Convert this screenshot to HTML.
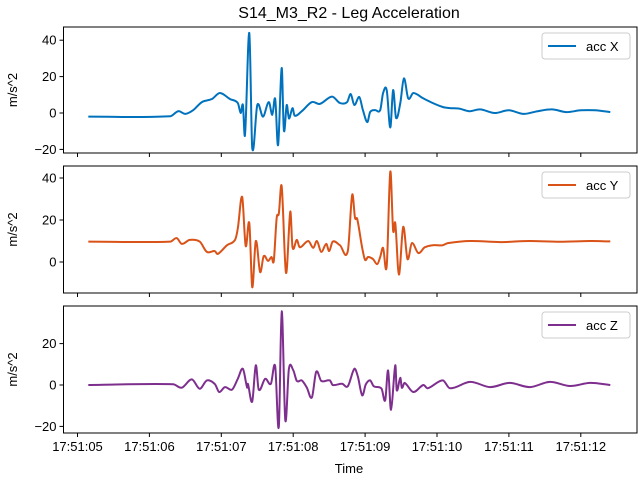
<!DOCTYPE html>
<html><head><meta charset="utf-8"><style>
body{margin:0;background:#fff}
svg{display:block;font-family:"Liberation Sans","DejaVu Sans",sans-serif}
</style></head><body>
<svg id="chart" width="640" height="480" viewBox="0 0 640 480">
<rect width="640" height="480" fill="#fff"/>
<text x="349" y="18" font-size="16" text-anchor="middle">S14_M3_R2 - Leg Acceleration</text>
<text x="349" y="473" font-size="13" text-anchor="middle">Time</text>
<g id="plots"></g>
</svg>
<script>
const timeTicks = [5,6,7,8,9,10,11,12];
const timeTickLabels = ["17:51:05","17:51:06","17:51:07","17:51:08","17:51:09","17:51:10","17:51:11","17:51:12"];
const xTimes = [5.15,6.29,6.40,6.50,6.61,6.73,6.87,6.98,7.12,7.23,7.27,7.30,7.33,7.39,7.43,7.50,7.58,7.66,7.71,7.75,7.79,7.84,7.87,7.91,7.94,7.99,8.02,8.12,8.26,8.37,8.54,8.65,8.75,8.80,8.85,8.92,8.97,9.03,9.07,9.14,9.21,9.25,9.30,9.35,9.39,9.43,9.49,9.54,9.60,9.67,9.81,9.94,10.08,10.18,10.30,10.45,10.60,10.80,11.00,11.20,11.40,11.60,11.80,12.00,12.20,12.41];
const accX = [-2,-1.8,1,-0.5,1.6,6,7.7,11,7.7,5.5,0,4.4,-12,44,-19,4.4,-2,6,-1,7.7,-17.6,24.7,-9.5,4.4,-3,2.7,-1.5,1,6,5,9,5.5,6,10.4,4.4,8.8,1.6,-5,0.5,1.6,1.6,11,12.6,-8,12.6,-2.7,5.5,19,8,11,8,5.5,3.3,2.7,2.5,1,2,0,1.5,-0.5,1,2,0.5,1.5,1.5,0.5];
const yTimes = [5.15,6.29,6.38,6.45,6.56,6.70,6.80,6.91,6.95,7.08,7.19,7.23,7.29,7.34,7.39,7.43,7.48,7.54,7.59,7.65,7.70,7.73,7.77,7.80,7.84,7.90,7.96,7.99,8.05,8.09,8.21,8.28,8.33,8.39,8.46,8.50,8.55,8.65,8.76,8.82,8.86,8.89,8.96,9.00,9.04,9.11,9.17,9.21,9.25,9.30,9.35,9.39,9.42,9.47,9.53,9.59,9.65,9.74,9.83,9.94,10.08,10.15,10.46,10.88,11.29,11.71,12.13,12.41];
const accY = [9.7,9.7,11.4,8.6,10.5,9.7,4.8,5.2,3.8,8,10.5,16,31,7.6,18.5,-12,10,-4.8,2.8,0.5,2.4,0.5,21,23,36,-5.2,24,7,10.5,7,10,6.7,10,4.8,8.6,5.2,9.7,8,5.2,32,21,20.5,6.7,1,2.4,1.4,-1,2.4,6.7,-2,43,15,18.5,-6,16.7,1.4,9,4.3,7,8,8,9,10,9.5,10,9.6,10,9.8];
const zTimes = [5.15,6.33,6.45,6.59,6.70,6.80,6.91,6.97,7.05,7.15,7.23,7.30,7.36,7.37,7.43,7.48,7.52,7.61,7.69,7.75,7.80,7.84,7.89,7.94,8.00,8.05,8.12,8.19,8.26,8.32,8.39,8.51,8.55,8.68,8.76,8.85,8.90,8.96,9.01,9.07,9.12,9.23,9.28,9.32,9.36,9.42,9.44,9.49,9.51,9.55,9.67,9.81,9.87,10.08,10.18,10.46,10.74,11.01,11.29,11.57,11.85,12.13,12.41];
const accZ = [0,0.4,-1.3,2.7,-1.8,2.2,0.5,-3.4,-1,-2.2,3,7.8,-1.3,0.6,-8,9.5,-2.2,3,0.6,9,-20.3,35.6,-17,7.8,7.2,2,2.2,-1.3,-6,6.4,2,2.2,0,0.6,-0.6,7.8,4,-5,0.3,2.2,-0.6,-1.8,-7.4,7,-12,9.5,-2.5,3.5,-1.3,1,-3.4,0,-1.6,2.2,-1.6,1.5,-1,1,-1,1.5,-0.5,1,0];
const yTicksX = [-20,0,20,40];
const yTicksY = [0,20,40];
const yTicksZ = [-20,0,20];

const NS = "http://www.w3.org/2000/svg";
const L = 63.5, R = 637;
function xs(t){ return 77.5 + (t - 5) * 71.9; }
const panels = [
  {key:"x", top:27, bot:153, zeroY:113, k:1.82, times:xTimes, vals:accX, ticks:yTicksX, color:"#0072BD", label:"acc X", showX:false},
  {key:"y", top:166, bot:293, zeroY:262, k:2.1, times:yTimes, vals:accY, ticks:yTicksY, color:"#D95319", label:"acc Y", showX:false},
  {key:"z", top:306, bot:433, zeroY:385, k:2.07, times:zTimes, vals:accZ, ticks:yTicksZ, color:"#7E2F8E", label:"acc Z", showX:true}
];
const root = document.getElementById("plots");
function mk(tag, attrs, parent){ const e = document.createElementNS(NS, tag); for (const a in attrs) e.setAttribute(a, attrs[a]); parent.appendChild(e); return e; }
function smoothPath(P){
  const n = P.length, m = [];
  for (let i = 0; i < n; i++) {
    const a = P[Math.max(0, i-1)], b = P[Math.min(n-1, i+1)];
    m.push((b[1]-a[1]) / (b[0]-a[0]));
  }
  let d = "M" + P[0][0].toFixed(1) + "," + P[0][1].toFixed(1);
  for (let i = 0; i < n - 1; i++) {
    const p1 = P[i], p2 = P[i+1], dx = (p2[0]-p1[0]) / 3;
    d += " C" + (p1[0]+dx).toFixed(1) + "," + (p1[1]+m[i]*dx).toFixed(1) + " " + (p2[0]-dx).toFixed(1) + "," + (p2[1]-m[i+1]*dx).toFixed(1) + " " + p2[0].toFixed(1) + "," + p2[1].toFixed(1);
  }
  return d;
}
panels.forEach(p => {
  const ys = v => p.zeroY - v * p.k;
  const g = mk("g", {}, root);
  
  
  const P = p.times.map((t, i) => [xs(t), ys(p.vals[i])]);
  const line = mk("path", {d: smoothPath(P), fill:"none", stroke:p.color, "stroke-width":2, "stroke-linejoin":"round"}, g);
  
  
  const fr = mk("rect", {x:L, y:p.top, width:R-L, height:p.bot-p.top, fill:"none", stroke:"#000", "stroke-width":1}, g);
  
  
  p.ticks.forEach(v => {
    const y = ys(v);
    mk("line", {x1:L-4, x2:L, y1:y, y2:y, stroke:"#000", "stroke-width":1}, g);
    const tx = mk("text", {x:L-7, y:y+4.5, "font-size":13, "text-anchor":"end"}, g);
    tx.textContent = v < 0 ? "\u2212" + Math.abs(v) : String(v);
    
    
  });
  timeTicks.forEach((t, i) => {
    const x = xs(t);
    mk("line", {x1:x, x2:x, y1:p.bot, y2:p.bot+4, stroke:"#000", "stroke-width":1}, g);
    if (p.showX) {
      const tx = mk("text", {x:x, y:p.bot+18, "font-size":13, "text-anchor":"middle"}, g);
      tx.textContent = timeTickLabels[i];
      
      
    }
  });
  const cy = (p.top + p.bot) / 2;
  const yl = mk("text", {x:0, y:0, "font-size":13, "text-anchor":"middle", transform:"translate(17," + cy + ") rotate(-90)"}, g);
  yl.textContent = "m/s^2";
  
  
  const lg = mk("g", {}, g);
  
  
  mk("rect", {x:542, y:p.top+6, width:88, height:26, rx:3, fill:"#fff", stroke:"#ccc", "stroke-width":1}, lg);
  mk("line", {x1:548, x2:576, y1:p.top+19, y2:p.top+19, stroke:p.color, "stroke-width":2}, lg);
  const lt = mk("text", {x:586, y:p.top+24, "font-size":13}, lg);
  lt.textContent = p.label;
  
  
});
</script>
</body></html>
